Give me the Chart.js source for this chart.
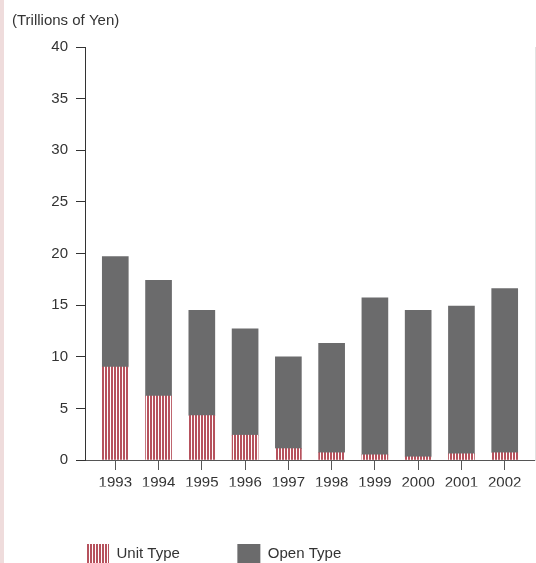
<!DOCTYPE html>
<html>
<head>
<meta charset="utf-8">
<script src="https://cdn.jsdelivr.net/npm/chart.js@4/dist/chart.umd.min.js"></script>
<style>
  html, body { margin: 0; padding: 0; background: #fff; }
  #wrap { position: relative; width: 536px; height: 563px; border-left: 4px solid #efdcdc; box-sizing: border-box; }
  canvas { position: absolute; left: -4px; top: 0; }
</style>
</head>
<body>
<div id="wrap"><canvas id="chart" width="536" height="563"></canvas></div>
<script>
const years = [1993, 1994, 1995, 1996, 1997, 1998, 1999, 2000, 2001, 2002];
const unitType = [9.0, 6.2, 4.3, 2.4, 1.1, 0.7, 0.5, 0.3, 0.6, 0.7];
const openType = [10.7, 11.2, 10.2, 10.3, 8.9, 10.6, 15.2, 14.2, 14.3, 15.9];
const yTicks = [0, 5, 10, 15, 20, 25, 30, 35, 40];
const unitLabel = '(Trillions of Yen)';

const RED = '#b6525d';
const GREY = '#6b6b6c';
const AXIS = '#333';
const FONT = { family: 'Liberation Sans, Arial, sans-serif', size: 15 };

// vertical red/white stripes for the unit type series
function stripes() {
  const c = document.createElement('canvas');
  c.width = 3; c.height = 1;
  const g = c.getContext('2d');
  g.fillStyle = '#fff';
  g.fillRect(0, 0, 3, 1);
  g.fillStyle = RED;
  g.fillRect(0, 0, 2, 1);
  return g.createPattern(c, 'repeat');
}

const toPoints = vals => vals.map((v, i) => ({ x: years[i], y: v }));

// "(Trillions of Yen)" above the value axis
const unitTitle = {
  id: 'unitTitle',
  afterDraw(chart) {
    const ctx = chart.ctx;
    ctx.save();
    ctx.font = '15px ' + FONT.family;
    ctx.fillStyle = AXIS;
    ctx.textBaseline = 'middle';
    ctx.fillText(unitLabel, 12, 21);
    ctx.restore();
  }
};

new Chart(document.getElementById('chart'), {
  type: 'bar',
  data: {
    datasets: [
      { label: 'Unit Type', data: toPoints(unitType), backgroundColor: stripes(), barThickness: 26 },
      { label: 'Open Type', data: toPoints(openType), backgroundColor: GREY, barThickness: 26 }
    ]
  },
  options: {
    responsive: false,
    animation: false,
    layout: { padding: { left: 28.5, top: 47, right: 0, bottom: -10 } },
    plugins: {
      tooltip: { enabled: false },
      legend: {
        position: 'bottom',
        align: 'start',
        labels: {
          boxWidth: 23,
          boxHeight: 19,
          padding: 57.5,
          color: AXIS,
          font: FONT
        }
      }
    },
    scales: {
      x: {
        type: 'linear',
        stacked: true,
        offset: false,
        min: 1992.3,
        max: 2002.7,
        afterBuildTicks: s => { s.ticks = years.map(v => ({ value: v })); },
        afterFit: s => { s.height = 26.5; },
        ticks: { color: AXIS, font: FONT, padding: 4, callback: v => String(v), maxRotation: 0 },
        grid: { offset: false, drawOnChartArea: false, tickLength: 10, color: '#555' },
        border: { color: '#555' }
      },
      y: {
        stacked: true,
        min: 0,
        max: 40,
        afterBuildTicks: s => { s.ticks = yTicks.map(v => ({ value: v })); },
        afterFit: s => { s.width = 85 - 28.5; },
        ticks: { color: AXIS, font: FONT, padding: 8 },
        grid: { drawOnChartArea: false, tickLength: 9, color: AXIS },
        border: { color: AXIS }
      },
      y2: {
        position: 'right',
        min: 0,
        max: 40,
        ticks: { display: false },
        grid: { display: false },
        border: { color: '#e2e2e2' },
        afterFit: s => { s.width = 1; }
      }
    }
  },
  plugins: [unitTitle]
});
</script>
</body>
</html>
